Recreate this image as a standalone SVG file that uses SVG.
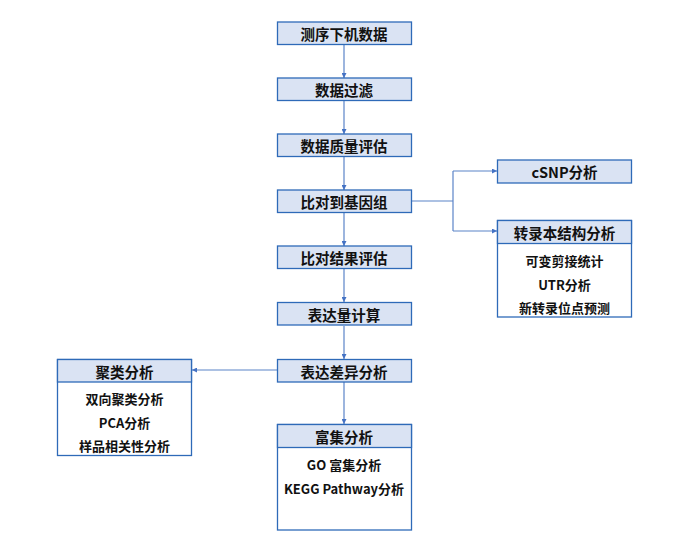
<svg xmlns="http://www.w3.org/2000/svg" width="696" height="546" viewBox="0 0 696 546">
<defs>
<style>
.box{fill:#ffffff;stroke:#2e6ab8;stroke-width:1.3}
.hd{fill:#dae3f3;stroke:#2e6ab8;stroke-width:1.3}
.t{font-family:"Noto Sans CJK SC","Noto Sans",sans-serif;font-weight:bold;font-size:14.5px;fill:#111;text-anchor:middle;dominant-baseline:central}
.s{font-family:"Noto Sans CJK SC","Noto Sans",sans-serif;font-weight:bold;font-size:13px;fill:#111;text-anchor:middle;dominant-baseline:central}
.c{fill:none;stroke:#5b84c8;stroke-width:1.2}
</style>
<marker id="ar" viewBox="0 0 6 6" refX="6" refY="3" markerWidth="5" markerHeight="5" orient="auto" markerUnits="userSpaceOnUse">
<path d="M0,0 L6,3 L0,6 z" fill="#4472c4"/>
</marker>
</defs>
<rect width="696" height="546" fill="#ffffff"/>
<g id="connectors">
<path class="c" d="M344,45 V78" marker-end="url(#ar)"/>
<path class="c" d="M344,101 V134" marker-end="url(#ar)"/>
<path class="c" d="M344,157 V190" marker-end="url(#ar)"/>
<path class="c" d="M344,213 V246" marker-end="url(#ar)"/>
<path class="c" d="M344,269 V302" marker-end="url(#ar)"/>
<path class="c" d="M344,326 V359" marker-end="url(#ar)"/>
<path class="c" d="M344,382 V424" marker-end="url(#ar)"/>
<path class="c" d="M411,201 H453"/>
<path class="c" d="M453,171 V231"/>
<path class="c" d="M453,171 H497" marker-end="url(#ar)"/>
<path class="c" d="M453,231 H497" marker-end="url(#ar)"/>
<path class="c" d="M277,370 H192" marker-end="url(#ar)"/>
</g>
<g id="n1"><rect class="hd" x="277.5" y="22" width="134" height="22.5"/><text class="t" x="344" y="33.5">测序下机数据</text></g>
<g id="n2"><rect class="hd" x="277.5" y="78" width="134" height="22.5"/><text class="t" x="344" y="89.5">数据过滤</text></g>
<g id="n3"><rect class="hd" x="277.5" y="134" width="134" height="22.5"/><text class="t" x="344" y="145.5">数据质量评估</text></g>
<g id="n4"><rect class="hd" x="277.5" y="190" width="134" height="22.5"/><text class="t" x="344" y="201.5">比对到基因组</text></g>
<g id="n5"><rect class="hd" x="277.5" y="246" width="134" height="22.5"/><text class="t" x="344" y="257.5">比对结果评估</text></g>
<g id="n6"><rect class="hd" x="277.5" y="302.5" width="134" height="22.5"/><text class="t" x="344" y="314">表达量计算</text></g>
<g id="n7"><rect class="hd" x="277.5" y="359.5" width="134" height="22.5"/><text class="t" x="344" y="371">表达差异分析</text></g>
<g id="n8">
<rect class="box" x="277.5" y="424.5" width="134" height="105.5"/>
<rect class="hd" x="277.5" y="424.5" width="134" height="23"/>
<text class="t" x="344" y="436">富集分析</text>
<text class="s" x="344" y="464">GO 富集分析</text>
<text class="s" x="344" y="488">KEGG Pathway分析</text>
</g>
<g id="n9"><rect class="hd" x="497.5" y="160" width="134" height="23"/><text class="t" x="564.5" y="171.5">cSNP分析</text></g>
<g id="n10">
<rect class="box" x="497.5" y="220.5" width="134" height="96.5"/>
<rect class="hd" x="497.5" y="220.5" width="134" height="23"/>
<text class="t" x="564.5" y="232">转录本结构分析</text>
<text class="s" x="564.5" y="260">可变剪接统计</text>
<text class="s" x="564.5" y="284">UTR分析</text>
<text class="s" x="564.5" y="307">新转录位点预测</text>
</g>
<g id="n11">
<rect class="box" x="57.5" y="359.5" width="134" height="96"/>
<rect class="hd" x="57.5" y="359.5" width="134" height="22.5"/>
<text class="t" x="124.5" y="371">聚类分析</text>
<text class="s" x="124.5" y="398">双向聚类分析</text>
<text class="s" x="124.5" y="422">PCA分析</text>
<text class="s" x="124.5" y="445">样品相关性分析</text>
</g>
</svg>
